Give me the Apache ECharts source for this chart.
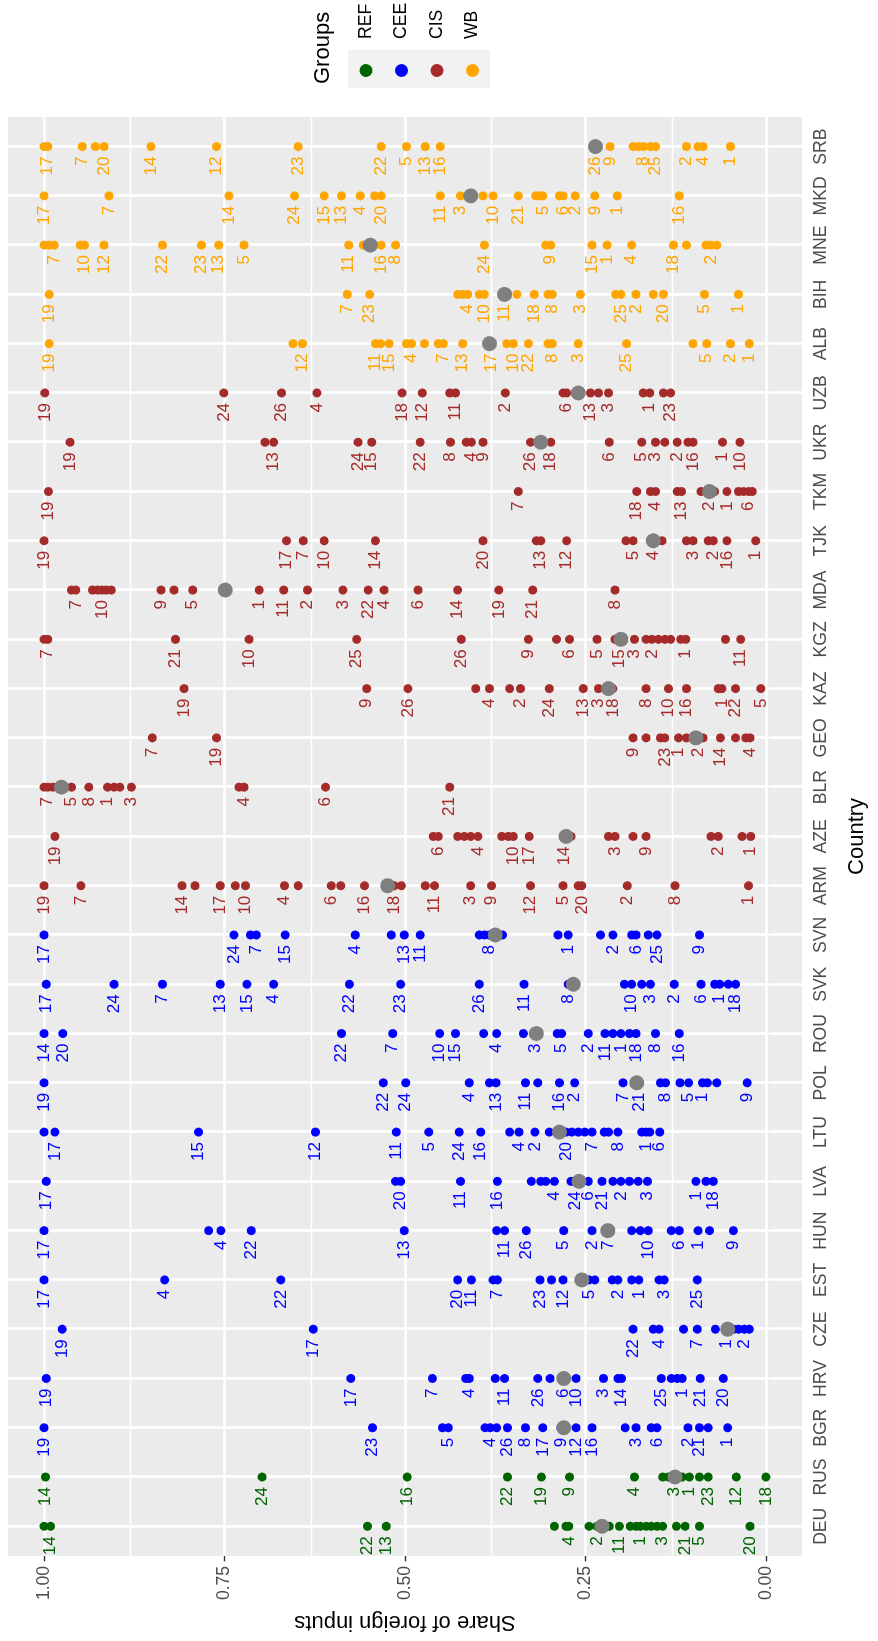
<!DOCTYPE html>
<html>
<head>
<meta charset="utf-8">
<title>Share of foreign inputs</title>
<script src="https://cdn.jsdelivr.net/npm/echarts@6.0.0/dist/echarts.min.js"></script>
<style>
    html, body {
        margin: 0;
        padding: 0;
        width: 878px;
        height: 1641px;
        overflow: hidden;
        background: #ffffff;
    }
    /* the plot is drawn landscape and turned a quarter left, like the picture */
    #chart {
        position: absolute;
        left: 0;
        top: 0;
        width: 1641px;
        height: 878px;
        transform-origin: 0 0;
        transform: translateY(1641px) rotate(-90deg);
    }
</style>
</head>
<body>
<div id="chart"></div>
<script>
const countries = ['DEU', 'RUS', 'BGR', 'HRV', 'CZE', 'EST', 'HUN', 'LVA', 'LTU', 'POL', 'ROU', 'SVK', 'SVN',
    'ARM', 'AZE', 'BLR', 'GEO', 'KAZ', 'KGZ', 'MDA', 'TJK', 'TKM', 'UKR', 'UZB', 'ALB', 'BIH', 'MNE', 'MKD', 'SRB']
const groupNames = ['REF', 'CEE', 'CIS', 'WB']
const groupColors = ['#006400', '#0000FF', '#A52A2A', '#FFA500']
const groupMembers = [
    ['DEU', 'RUS'],
    ['BGR', 'HRV', 'CZE', 'EST', 'HUN', 'LVA', 'LTU', 'POL', 'ROU', 'SVK', 'SVN'],
    ['ARM', 'AZE', 'BLR', 'GEO', 'KAZ', 'KGZ', 'MDA', 'TJK', 'TKM', 'UKR', 'UZB'],
    ['ALB', 'BIH', 'MNE', 'MKD', 'SRB']
]
const yTicks = [0, 0.25, 0.5, 0.75, 1]
const yMinor = [0.125, 0.375, 0.625, 0.875]

// [share, sector label] per country, label 0 = not printed
const DEU = [[1.0,0],[0.991,14],[0.552,22],[0.526,13],[0.293,0],[0.277,0],[0.273,4],[0.245,0],[0.234,2],[0.217,0],[0.203,11],[0.188,0],[0.180,0],[0.174,1],[0.166,0],[0.159,0],[0.151,0],[0.143,3],[0.124,0],[0.112,21],[0.092,5],[0.022,20]]
const RUS = [[0.998,14],[0.698,24],[0.497,16],[0.358,22],[0.311,19],[0.272,9],[0.182,4],[0.143,0],[0.135,0],[0.127,3],[0.116,0],[0.106,1],[0.092,0],[0.080,23],[0.041,12],[0.000,18]]
const BGR = [[1.0,19],[0.545,23],[0.448,0],[0.440,5],[0.389,0],[0.382,4],[0.373,0],[0.358,26],[0.333,8],[0.309,17],[0.284,9],[0.263,12],[0.241,16],[0.195,0],[0.180,3],[0.159,0],[0.151,6],[0.108,2],[0.092,21],[0.080,0],[0.053,1]]
const HRV = [[0.997,19],[0.575,17],[0.462,7],[0.416,0],[0.411,4],[0.375,0],[0.362,11],[0.316,26],[0.299,0],[0.280,6],[0.263,10],[0.225,3],[0.205,0],[0.200,14],[0.145,25],[0.131,0],[0.123,0],[0.116,1],[0.091,21],[0.059,20]]
const CZE = [[0.975,19],[0.627,17],[0.184,22],[0.156,0],[0.148,4],[0.114,0],[0.095,7],[0.070,0],[0.055,1],[0.045,0],[0.038,0],[0.030,2],[0.023,0]]
const EST = [[1.0,17],[0.833,4],[0.672,22],[0.427,20],[0.408,11],[0.378,0],[0.372,7],[0.313,23],[0.297,0],[0.281,12],[0.245,5],[0.237,0],[0.213,0],[0.205,2],[0.186,0],[0.176,1],[0.148,0],[0.141,3],[0.095,25]]
const HUN = [[1.0,17],[0.772,0],[0.755,4],[0.713,22],[0.501,13],[0.373,0],[0.362,11],[0.332,26],[0.280,5],[0.241,2],[0.219,7],[0.186,0],[0.174,0],[0.163,10],[0.131,0],[0.120,6],[0.094,1],[0.078,0],[0.045,9]]
const LVA = [[0.997,17],[0.513,0],[0.506,20],[0.423,11],[0.372,16],[0.325,0],[0.312,0],[0.305,0],[0.293,4],[0.270,0],[0.264,24],[0.246,6],[0.227,21],[0.212,0],[0.201,2],[0.189,0],[0.177,0],[0.164,3],[0.097,1],[0.083,0],[0.073,18]]
const LTU = [[1.0,0],[0.985,17],[0.786,15],[0.624,12],[0.512,11],[0.467,5],[0.425,24],[0.395,16],[0.355,0],[0.342,4],[0.320,2],[0.300,0],[0.277,20],[0.269,0],[0.260,0],[0.251,0],[0.241,7],[0.224,0],[0.218,0],[0.205,8],[0.172,0],[0.166,1],[0.161,0],[0.147,6]]
const POL = [[1.0,19],[0.530,22],[0.499,24],[0.411,4],[0.383,0],[0.374,13],[0.333,11],[0.316,0],[0.286,16],[0.265,2],[0.198,7],[0.175,21],[0.146,0],[0.139,8],[0.119,0],[0.107,5],[0.088,1],[0.081,0],[0.068,0],[0.026,9]]
const ROU = [[1.0,14],[0.974,20],[0.588,22],[0.517,7],[0.452,10],[0.430,15],[0.391,0],[0.373,4],[0.336,0],[0.320,3],[0.289,0],[0.283,5],[0.246,2],[0.223,11],[0.212,0],[0.201,1],[0.189,0],[0.180,18],[0.153,8],[0.120,16]]
const SVK = [[0.997,17],[0.903,24],[0.836,7],[0.756,13],[0.719,15],[0.682,4],[0.577,22],[0.506,23],[0.397,26],[0.335,11],[0.274,8],[0.196,0],[0.186,10],[0.172,0],[0.160,3],[0.127,2],[0.090,6],[0.071,0],[0.064,1],[0.052,0],[0.042,18]]
const SVN = [[1.0,17],[0.737,24],[0.714,0],[0.706,7],[0.666,15],[0.569,4],[0.519,0],[0.501,13],[0.479,11],[0.397,0],[0.390,0],[0.383,8],[0.365,0],[0.288,0],[0.274,1],[0.229,0],[0.212,2],[0.186,0],[0.180,6],[0.163,0],[0.151,25],[0.092,9]]
const ARM = [[1.0,19],[0.949,7],[0.809,14],[0.791,0],[0.756,17],[0.735,0],[0.721,10],[0.667,4],[0.648,0],[0.602,6],[0.589,0],[0.556,16],[0.515,18],[0.505,0],[0.472,0],[0.459,11],[0.409,3],[0.380,9],[0.326,12],[0.281,5],[0.260,0],[0.255,20],[0.192,2],[0.126,8],[0.024,1]]
const AZE = [[0.985,19],[0.461,0],[0.454,6],[0.427,0],[0.418,0],[0.409,0],[0.399,4],[0.366,0],[0.357,0],[0.350,10],[0.328,17],[0.279,14],[0.270,0],[0.218,0],[0.209,3],[0.184,0],[0.166,9],[0.076,0],[0.066,2],[0.033,0],[0.021,1]]
const BLR = [[1.0,0],[0.995,7],[0.988,0],[0.962,5],[0.938,8],[0.912,1],[0.903,0],[0.895,0],[0.879,3],[0.730,0],[0.723,4],[0.610,6],[0.438,21]]
const GEO = [[0.850,7],[0.761,19],[0.184,9],[0.166,0],[0.146,0],[0.140,23],[0.121,1],[0.110,0],[0.094,2],[0.087,0],[0.063,14],[0.042,0],[0.028,0],[0.022,4]]
const KAZ = [[0.806,19],[0.553,9],[0.496,26],[0.402,0],[0.383,4],[0.355,0],[0.340,2],[0.300,24],[0.253,13],[0.232,3],[0.212,18],[0.166,8],[0.135,10],[0.110,16],[0.066,0],[0.061,1],[0.042,22],[0.007,5]]
const KGZ = [[1.0,0],[0.995,7],[0.818,21],[0.716,10],[0.567,25],[0.422,26],[0.329,9],[0.290,0],[0.272,6],[0.234,5],[0.209,0],[0.203,15],[0.182,3],[0.166,0],[0.158,2],[0.149,0],[0.140,0],[0.132,0],[0.118,0],[0.111,1],[0.056,0],[0.035,11]]
const MDA = [[0.962,0],[0.956,7],[0.933,0],[0.926,0],[0.920,10],[0.914,0],[0.907,0],[0.838,9],[0.820,0],[0.794,5],[0.702,1],[0.668,11],[0.635,2],[0.586,3],[0.551,22],[0.529,4],[0.482,6],[0.427,14],[0.370,19],[0.323,21],[0.209,8]]
const TJK = [[1.0,19],[0.664,17],[0.641,7],[0.612,10],[0.541,14],[0.392,20],[0.318,0],[0.312,13],[0.276,12],[0.194,0],[0.184,5],[0.156,4],[0.144,0],[0.110,0],[0.101,3],[0.080,0],[0.073,2],[0.054,16],[0.014,1]]
const TKM = [[0.994,19],[0.343,7],[0.179,18],[0.160,0],[0.153,4],[0.123,0],[0.117,13],[0.090,0],[0.078,2],[0.071,0],[0.054,1],[0.038,0],[0.031,0],[0.024,6],[0.019,0]]
const UKR = [[0.964,19],[0.694,0],[0.682,13],[0.565,24],[0.546,15],[0.479,22],[0.437,8],[0.415,0],[0.408,4],[0.392,9],[0.326,26],[0.298,18],[0.217,6],[0.172,5],[0.153,3],[0.140,0],[0.123,2],[0.108,0],[0.101,16],[0.060,1],[0.036,10]]
const UZB = [[0.999,19],[0.751,24],[0.671,26],[0.622,4],[0.504,18],[0.476,12],[0.438,0],[0.430,11],[0.361,2],[0.281,0],[0.276,6],[0.243,13],[0.232,0],[0.218,3],[0.170,0],[0.161,1],[0.142,0],[0.132,23]]
const ALB = [[0.993,19],[0.655,0],[0.642,12],[0.541,11],[0.534,0],[0.522,15],[0.498,0],[0.491,4],[0.473,0],[0.454,0],[0.447,7],[0.420,13],[0.381,17],[0.359,0],[0.350,10],[0.329,22],[0.302,0],[0.296,8],[0.260,3],[0.193,25],[0.101,0],[0.082,5],[0.049,2],[0.023,1]]
const BIH = [[0.993,19],[0.580,7],[0.549,23],[0.427,0],[0.420,0],[0.413,4],[0.397,0],[0.390,10],[0.362,11],[0.345,0],[0.321,18],[0.302,0],[0.296,8],[0.257,3],[0.208,0],[0.201,25],[0.180,2],[0.156,0],[0.142,20],[0.085,5],[0.038,1]]
const MNE = [[1.0,0],[0.993,0],[0.986,7],[0.950,0],[0.944,10],[0.917,12],[0.836,22],[0.782,23],[0.758,13],[0.723,5],[0.578,11],[0.558,0],[0.533,16],[0.513,8],[0.390,24],[0.305,0],[0.298,9],[0.241,15],[0.220,1],[0.186,4],[0.128,18],[0.110,0],[0.083,0],[0.076,2],[0.068,0]]
const MKD = [[1.0,17],[0.910,7],[0.744,14],[0.653,24],[0.612,15],[0.588,13],[0.562,4],[0.542,0],[0.533,20],[0.451,11],[0.423,3],[0.392,0],[0.378,10],[0.343,21],[0.319,0],[0.314,0],[0.309,5],[0.286,0],[0.281,6],[0.264,2],[0.237,9],[0.206,1],[0.120,16]]
const SRB = [[1.0,0],[0.995,17],[0.947,7],[0.929,0],[0.917,20],[0.852,14],[0.761,12],[0.648,23],[0.533,22],[0.498,5],[0.472,13],[0.451,16],[0.236,26],[0.216,9],[0.184,0],[0.177,0],[0.170,8],[0.160,0],[0.153,25],[0.110,2],[0.094,0],[0.087,4],[0.049,1]]

// grey marker per country, same order as countries
const countryMarks = [0.227, 0.126, 0.280, 0.280, 0.053, 0.255, 0.219, 0.259, 0.286, 0.179, 0.318, 0.267, 0.375,
    0.524, 0.277, 0.976, 0.097, 0.218, 0.201, 0.749, 0.156, 0.078, 0.312, 0.260, 0.383, 0.362, 0.548, 0.409, 0.236]

const pointsBy = {DEU, RUS, BGR, HRV, CZE, EST, HUN, LVA, LTU, POL, ROU, SVK, SVN, ARM, AZE, BLR, GEO, KAZ, KGZ,
    MDA, TJK, TKM, UKR, UZB, ALB, BIH, MNE, MKD, SRB}

const FONT = '"Liberation Sans", Arial, sans-serif'
const catIndex = countries.map((c, i) => i + 1)

const groupSeries = groupNames.map((name, g) => {
    const data = []
    groupMembers[g].forEach(c => {
        const x = countries.indexOf(c) + 1
        pointsBy[c].forEach(p => data.push([x, p[0], p[1]]))
    })
    return {
        name: name,
        type: 'scatter',
        z: 2,
        symbol: 'circle',
        symbolSize: 9,
        itemStyle: {color: groupColors[g], opacity: 1},
        label: {
            show: true,
            position: 'left',
            distance: 5.5,
            color: groupColors[g],
            fontSize: 17,
            fontFamily: FONT,
            formatter: p => p.value[2] ? String(p.value[2]) : ''
        },
        emphasis: {disabled: true},
        data: data
    }
})

const gridLines = []
catIndex.forEach(x => gridLines.push({xAxis: x, lineStyle: {color: '#FFFFFF', width: 2.6, type: 'solid'}}))
yTicks.forEach(y => gridLines.push({yAxis: y, lineStyle: {color: '#FFFFFF', width: 2.6, type: 'solid'}}))
yMinor.forEach(y => gridLines.push({yAxis: y, lineStyle: {color: '#FFFFFF', width: 1.3, type: 'solid'}}))

const chart = echarts.init(document.getElementById('chart'))
const option = {
    animation: false,
    backgroundColor: '#FFFFFF',
    textStyle: {fontFamily: FONT},
    title: {
        text: 'Groups',
        left: 1557,
        top: 312,
        padding: 0,
        textStyle: {fontSize: 22, fontWeight: 'normal', color: '#000000', fontFamily: FONT}
    },
    legend: {
        data: groupNames,
        orient: 'vertical',
        left: 1564,
        top: 357,
        padding: 0,
        icon: 'circle',
        itemWidth: 13,
        itemHeight: 13,
        itemGap: 17.5,
        selectedMode: false,
        textStyle: {fontSize: 17.6, color: '#000000', fontFamily: FONT, padding: [0, 0, 0, 20]}
    },
    graphic: [{
        type: 'rect',
        left: 1553,
        top: 348,
        z: -1,
        shape: {width: 38, height: 142},
        style: {fill: '#F2F2F2'}
    }],
    grid: {
        show: true,
        left: 84,
        right: 117,
        top: 8,
        bottom: 76,
        backgroundColor: '#EBEBEB',
        borderWidth: 0
    },
    xAxis: {
        type: 'value',
        min: 0.4,
        max: 29.6,
        name: 'Country',
        nameLocation: 'middle',
        nameGap: 44,
        nameTextStyle: {fontSize: 22, color: '#000000', fontFamily: FONT},
        axisLine: {show: false},
        splitLine: {show: false},
        axisTick: {show: true, customValues: catIndex, length: 5.5, lineStyle: {color: '#333333', width: 1.4}},
        axisLabel: {
            customValues: catIndex,
            margin: 10,
            fontSize: 17.6,
            color: '#4D4D4D',
            fontFamily: FONT,
            formatter: v => countries[Math.round(v) - 1]
        }
    },
    yAxis: {
        type: 'value',
        min: -0.05,
        max: 1.05,
        name: 'Share of foreign inputs',
        nameLocation: 'middle',
        nameRotate: 90,
        nameGap: 52,
        nameTextStyle: {fontSize: 22, color: '#000000', fontFamily: FONT},
        axisLine: {show: false},
        splitLine: {show: false},
        axisTick: {show: true, customValues: yTicks, length: 5.5, lineStyle: {color: '#333333', width: 1.4}},
        axisLabel: {
            customValues: yTicks,
            margin: 10,
            fontSize: 17.6,
            color: '#4D4D4D',
            fontFamily: FONT,
            formatter: v => v.toFixed(2)
        }
    },
    series: [
        {
            name: 'grid',
            type: 'scatter',
            z: 1,
            silent: true,
            data: [],
            markLine: {
                z: 1,
                silent: true,
                symbol: 'none',
                animation: false,
                label: {show: false},
                emphasis: {disabled: true},
                lineStyle: {type: 'solid'},
                data: gridLines
            }
        },
        ...groupSeries,
        {
            name: 'country',
            type: 'scatter',
            z: 3,
            symbolSize: 15,
            itemStyle: {color: '#7F7F7F', opacity: 1},
            emphasis: {disabled: true},
            data: countryMarks.map((m, i) => [i + 1, m])
        }
    ]
}
chart.setOption(option, true)
</script>
</body>
</html>
